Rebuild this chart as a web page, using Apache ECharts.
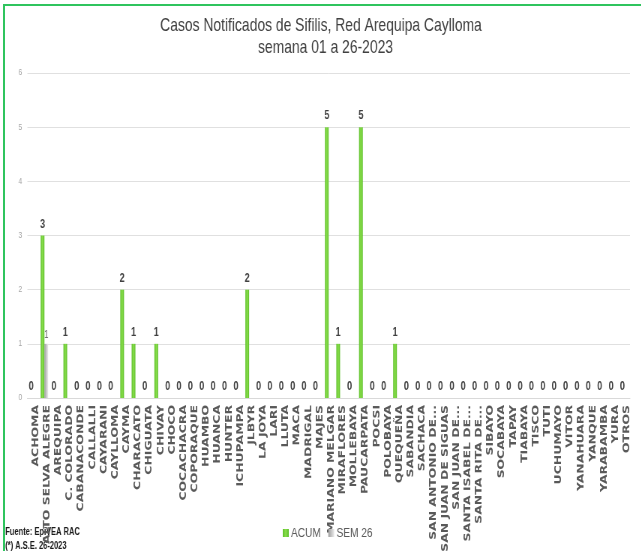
<!DOCTYPE html>
<html>
<head>
<meta charset="utf-8">
<script src="https://cdn.jsdelivr.net/npm/echarts@6/dist/echarts.min.js"></script>
<style>
html,body{margin:0;padding:0;background:#fff;overflow:hidden;}
#wrap{position:absolute;left:0;top:0;width:641px;height:551px;overflow:hidden;}
#chart{width:855px;height:551px;transform:scaleX(0.75);transform-origin:0 0;}
#frame{position:absolute;left:3px;top:4px;width:700px;height:600px;border-top:2px solid #2fc45e;border-left:2px solid #2fc45e;pointer-events:none;}
</style>
</head>
<body>
<div id="wrap"><div id="chart"></div></div>
<div id="frame"></div>
<script>
const categories = ["ACHOMA","ALTO SELVA ALEGRE","AREQUIPA","C. COLORADO","CABANACONDE","CALLALLI","CAYARANI","CAYLLOMA","CAYMA","CHARACATO","CHIGUATA","CHIVAY","CHOCO","COCACHACRA","COPORAQUE","HUAMBO","HUANCA","HUNTER","ICHUPAMPA","JLBYR","LA JOYA","LARI","LLUTA","MACA","MADRIGAL","MAJES","MARIANO MELGAR","MIRAFLORES","MOLLEBAYA","PAUCARPATA","POCSI","POLOBAYA","QUEQUEÑA","SABANDIA","SACHACA","SAN ANTONIO DE...","SAN JUAN DE SIGUAS","SAN JUAN DE...","SANTA ISABEL DE...","SANTA RITA DE...","SIBAYO","SOCABAYA","TAPAY","TIABAYA","TISCO","TUTI","UCHUMAYO","VITOR","YANAHUARA","YANQUE","YARABAMBA","YURA","OTROS"];
const acum = [0,3,0,1,0,0,0,0,2,1,0,1,0,0,0,0,0,0,0,2,0,0,0,0,0,0,5,1,0,5,0,0,1,0,0,0,0,0,0,0,0,0,0,0,0,0,0,0,0,0,0,0,0];
const sem26 = [null,1,null,null,null,null,null,null,null,null,null,null,null,null,null,null,null,null,null,null,null,null,null,null,null,null,null,null,null,null,null,null,null,null,null,null,null,null,null,null,null,null,null,null,null,null,null,null,null,null,null,null,null];
const yTicks = [0,1,2,3,4,5,6];
const titleLines = ['Casos Notificados de Sifilis, Red Arequipa Caylloma','semana 01 a 26-2023'];
const notes = ['Fuente: EpiVEA RAC','(*) A.S.E. 26-2023'];

const chart = echarts.init(document.getElementById('chart'));
const sans = '"Liberation Sans", Arial, sans-serif';
chart.setOption({
  animation:false,
  graphic:[
    {type:'text',x:428,y:26,style:{text:titleLines[0],font:'18.5px "Liberation Sans", Arial, sans-serif',fill:'#404040',textAlign:'center',textVerticalAlign:'middle'}},
    {type:'text',x:434,y:48,style:{text:titleLines[1],font:'18.5px "Liberation Sans", Arial, sans-serif',fill:'#404040',textAlign:'center',textVerticalAlign:'middle'}},
    {type:'text',x:7,y:532,style:{text:notes[0],font:'bold 10px "Liberation Sans", Arial, sans-serif',fill:'#1a1a1a',textVerticalAlign:'middle'}},
    {type:'text',x:7,y:546,style:{text:notes[1],font:'bold 10px "Liberation Sans", Arial, sans-serif',fill:'#1a1a1a',textVerticalAlign:'middle'}}
  ],
  legend:{top:521,left:372,itemWidth:8,itemHeight:8,itemGap:10,icon:'rect',
    textStyle:{fontFamily:sans,fontSize:13.5,color:'#595959',padding:[0,0,0,-2]},
    data:['ACUM','SEM 26']},
  grid:{left:36.5,right:15,top:73,bottom:153,containLabel:false,outerBoundsMode:'none'},
  xAxis:{type:'category',data:categories,
    axisLine:{lineStyle:{color:'#d9d9d9'}},axisTick:{show:false},
    axisLabel:{interval:0,rotate:90,margin:7,fontFamily:'"DejaVu Sans", Verdana, sans-serif',fontWeight:'bold',fontSize:12.4,color:'#595959',
      formatter:v=>'{a|'+v+'}',
      rich:{a:{fontFamily:'"DejaVu Sans", Verdana, sans-serif',fontWeight:'bold',fontSize:12.4,color:'#595959',padding:[7,0,0,0]}}}},
  yAxis:{type:'value',min:0,max:6,interval:1,
    axisLine:{show:false},axisTick:{show:false},
    splitLine:{lineStyle:{color:'#e0e0e0'}},
    axisLabel:{fontFamily:sans,fontSize:9,color:'#a6a6a6',margin:7,formatter:v=>yTicks.includes(v)?String(v):''}},
  series:[
    {name:'ACUM',type:'bar',data:acum,barWidth:5,barGap:'0%',
     itemStyle:{color:new echarts.graphic.LinearGradient(0,0,1,0,[{offset:0,color:'#5cbf2a'},{offset:0.5,color:'#8ade4c'},{offset:1,color:'#5cbf2a'}])},
     label:{show:true,position:'top',distance:5,fontFamily:sans,fontWeight:'bold',fontSize:12,color:'#404040'}},
    {name:'SEM 26',type:'bar',data:sem26,barWidth:5,
     itemStyle:{color:new echarts.graphic.LinearGradient(0,0,1,0,[{offset:0,color:'#9e9e9e'},{offset:1,color:'#ececec'}])},
     label:{show:true,position:'top',distance:4,fontFamily:sans,fontSize:10,color:'#595959'}}
  ]
});
</script>
</body>
</html>
